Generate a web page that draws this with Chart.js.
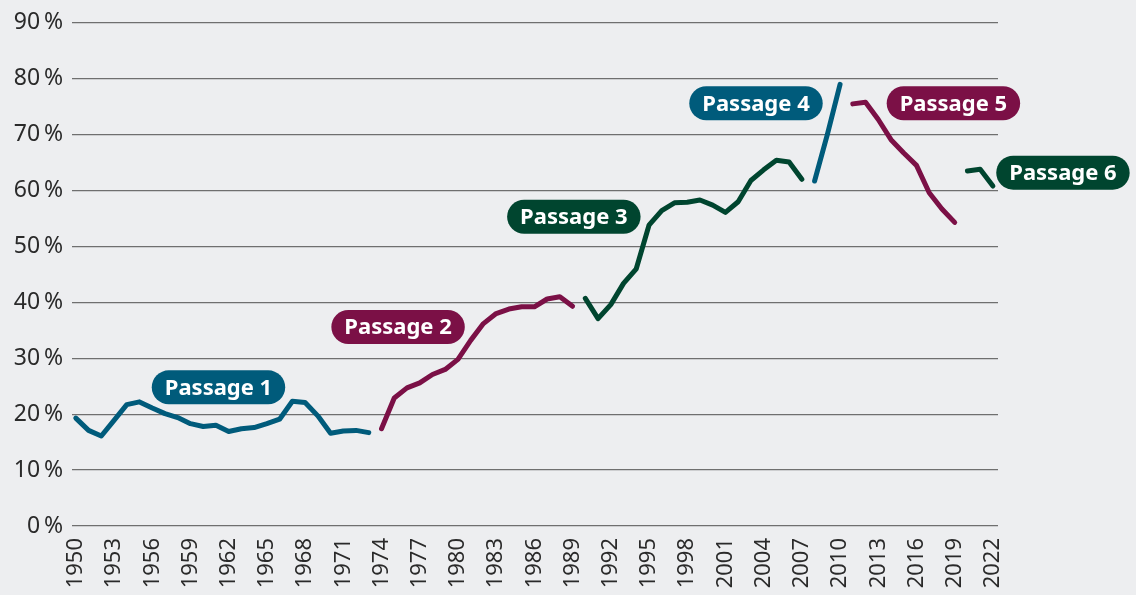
<!DOCTYPE html>
<html>
<head>
<meta charset="utf-8">
<script src="https://cdn.jsdelivr.net/npm/chart.js@4.4.1/dist/chart.umd.min.js"></script>
<style>
  html, body { margin: 0; padding: 0; background: #edeef0; }
  #wrap { width: 1136px; height: 595px; }
</style>
</head>
<body>
<div id="wrap"><canvas id="passagesChart" width="1136" height="595"></canvas></div>
<script>
// Values (percent)
const passage1Years = [1950, 1951, 1952, 1953, 1954, 1955, 1956, 1957, 1958, 1959, 1960, 1961, 1962, 1963, 1964, 1965, 1966, 1967, 1968, 1969, 1970, 1971, 1972, 1973];
const passage1Values = [19.3, 17.1, 16.1, 18.9, 21.7, 22.2, 21.1, 20.1, 19.4, 18.3, 17.8, 18.0, 16.9, 17.4, 17.6, 18.3, 19.1, 22.3, 22.1, 19.7, 16.6, 17.0, 17.1, 16.7];

const passage2Years = [1974, 1975, 1976, 1977, 1978, 1979, 1980, 1981, 1982, 1983, 1984, 1985, 1986, 1987, 1988, 1989];
const passage2Values = [17.4, 22.9, 24.7, 25.6, 27.1, 28.0, 29.8, 33.2, 36.2, 38.0, 38.8, 39.2, 39.2, 40.6, 41.0, 39.3];

const passage3Years = [1990, 1991, 1992, 1993, 1994, 1995, 1996, 1997, 1998, 1999, 2000, 2001, 2002, 2003, 2004, 2005, 2006, 2007];
const passage3Values = [40.7, 37.1, 39.6, 43.4, 46.0, 53.8, 56.4, 57.8, 57.9, 58.3, 57.4, 56.1, 58.0, 61.8, 63.7, 65.4, 65.1, 62.0];

const passage4Years = [2008, 2009, 2010];
const passage4Values = [61.7, 70.0, 79.0];

const passage5Years = [2011, 2012, 2013, 2014, 2015, 2016, 2017, 2018, 2019];
const passage5Values = [75.5, 75.8, 72.7, 69.1, 66.7, 64.5, 59.6, 56.7, 54.3];

const passage6Years = [2020, 2021, 2022];
const passage6Values = [63.5, 63.8, 60.8];

const xTickYears = [1950, 1953, 1956, 1959, 1962, 1965, 1968, 1971, 1974, 1977, 1980, 1983, 1986, 1989, 1992, 1995, 1998, 2001, 2004, 2007, 2010, 2013, 2016, 2019, 2022];
const yTickValues = [0, 10, 20, 30, 40, 50, 60, 70, 80, 90];
const yTickLabels = ['0\u2009%', '10\u2009%', '20\u2009%', '30\u2009%', '40\u2009%', '50\u2009%', '60\u2009%', '70\u2009%', '80\u2009%', '90\u2009%'];

const passageNames = ['Passage 1', 'Passage 2', 'Passage 3', 'Passage 4', 'Passage 5', 'Passage 6'];
// where each name pill sits, in data units (year, percent)
const labelYears = [1961.2, 1975.3, 1989.1, 2003.4, 2018.9, 2027.5];
const labelValues = [24.8, 35.6, 55.3, 75.6, 75.6, 63.2];

const BLUE = '#005b7b';
const PURPLE = '#7b1046';
const GREEN = '#00452f';
const passageColors = [BLUE, PURPLE, GREEN, BLUE, PURPLE, GREEN];

function toPoints(years, values) {
    return years.map((y, i) => ({ x: y, y: values[i] }));
}

const series = [
    toPoints(passage1Years, passage1Values),
    toPoints(passage2Years, passage2Values),
    toPoints(passage3Years, passage3Values),
    toPoints(passage4Years, passage4Values),
    toPoints(passage5Years, passage5Values),
    toPoints(passage6Years, passage6Values)
];

// Draws the rounded name tags
const passageTags = {
    id: 'passageTags',
    afterDatasetsDraw(chart) {
        const ctx = chart.ctx;
        const xs = chart.scales.x, ys = chart.scales.y;
        ctx.save();
        ctx.font = 'bold 22px "Noto Sans"';
        ctx.textAlign = 'center';
        ctx.textBaseline = 'middle';
        passageNames.forEach((name, i) => {
            const cx = xs.getPixelForValue(labelYears[i]);
            const cy = ys.getPixelForValue(labelValues[i]);
            const w = ctx.measureText(name).width + 26;
            const h = 34;
            ctx.fillStyle = passageColors[i];
            ctx.beginPath();
            ctx.roundRect(cx - w / 2, cy - h / 2, w, h, h / 2);
            ctx.fill();
            ctx.fillStyle = '#ffffff';
            ctx.fillText(name, cx, cy + 1);
        });
        ctx.restore();
    }
};

const ctx = document.getElementById('passagesChart').getContext('2d');
const passagesChart = new Chart(ctx, {
    type: 'line',
    data: {
        datasets: series.map((pts, i) => ({
            label: passageNames[i],
            data: pts,
            borderColor: passageColors[i],
            borderWidth: 5,
            borderCapStyle: 'round',
            borderJoinStyle: 'round',
            pointRadius: 0,
            fill: false,
            tension: 0
        }))
    },
    options: {
        responsive: false,
        animation: false,
        layout: {
            autoPadding: false,
            padding: { top: 21, right: 138, left: 0, bottom: 0 }
        },
        plugins: {
            legend: { display: false },
            tooltip: { enabled: false }
        },
        scales: {
            x: {
                type: 'linear',
                min: 1949.7,
                max: 2022.4,
                grid: { display: false },
                border: { display: false },
                afterBuildTicks(scale) {
                    scale.ticks = xTickYears.map(v => ({ value: v }));
                },
                afterFit(scale) { scale.height = 69; },
                ticks: {
                    autoSkip: false,
                    minRotation: 90,
                    maxRotation: 90,
                    padding: 4,
                    color: '#2a2a2a',
                    font: { family: 'Noto Sans', size: 22 },
                    callback: v => String(v)
                }
            },
            y: {
                min: 0,
                max: 90,
                border: { display: false },
                grid: { color: '#6f6f6f', lineWidth: 1.2, drawTicks: false },
                afterBuildTicks(scale) {
                    scale.ticks = yTickValues.map(v => ({ value: v }));
                },
                afterFit(scale) { scale.width = 72; },
                ticks: {
                    padding: 9,
                    color: '#2a2a2a',
                    font: { family: 'Noto Sans', size: 23 },
                    callback: v => yTickLabels[yTickValues.indexOf(v)]
                }
            }
        }
    },
    plugins: [passageTags]
});
</script>
</body>
</html>
